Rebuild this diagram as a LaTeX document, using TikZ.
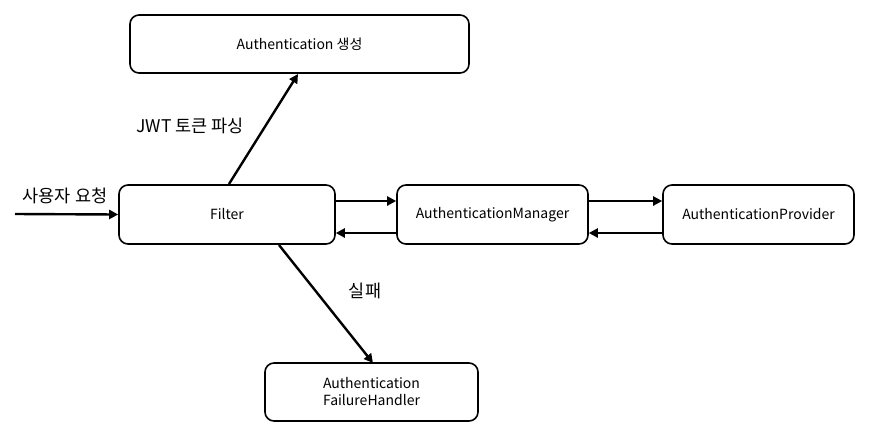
\documentclass[tikz,border=0pt]{standalone}
\usepackage{fontspec}
\setmainfont{Noto Sans CJK KR}
\usetikzlibrary{arrows.meta}
\begin{document}
\begin{tikzpicture}[x=1pt,y=-1pt,
  box/.style={draw,line width=1.6pt,rounded corners=9pt,font=\fontsize{14}{17}\selectfont,align=center,inner sep=0pt},
  arr/.style={line width=2.4pt,-{Triangle[length=9pt,width=9pt]}},
  lbl/.style={font=\fontsize{17.5}{20}\selectfont}]
\useasboundingbox[fill=white] (0,0) rectangle (871,432);
\node[box,minimum width=339pt,minimum height=58pt] (gen) at (299.5,44) {Authentication 생성};
\node[box,minimum width=216pt,minimum height=59pt] (filter) at (227,214.5) {Filter};
\node[box,minimum width=191pt,minimum height=59pt] (mgr) at (492.5,214.5) {AuthenticationManager};
\node[box,minimum width=191pt,minimum height=59pt] (prov) at (758.5,214.5) {AuthenticationProvider};
\node[box,minimum width=213pt,minimum height=58pt] (fail) at (371.5,392) {Authentication\\FailureHandler};
\coordinate (in) at (15,214);
\draw[arr] (in) -- (filter.west);
\draw[arr] (229,184) -- (298,74);
\draw[arr] (279,245) -- (373,363);
\draw[arr] ([yshift=13.5pt]filter.east) -- ([yshift=13.5pt]mgr.west);
\draw[arr] ([yshift=-18.5pt]mgr.west) -- ([yshift=-18.5pt]filter.east);
\draw[arr] ([yshift=13.5pt]mgr.east) -- ([yshift=13.5pt]prov.west);
\draw[arr] ([yshift=-18.5pt]prov.west) -- ([yshift=-18.5pt]mgr.east);
\node[lbl] (l1) at (190,126) {JWT 토큰 파싱};
\node[lbl] (l2) at (65,196) {사용자 요청};
\node[lbl] (l3) at (365,291) {실패};
\end{tikzpicture}
\end{document}
